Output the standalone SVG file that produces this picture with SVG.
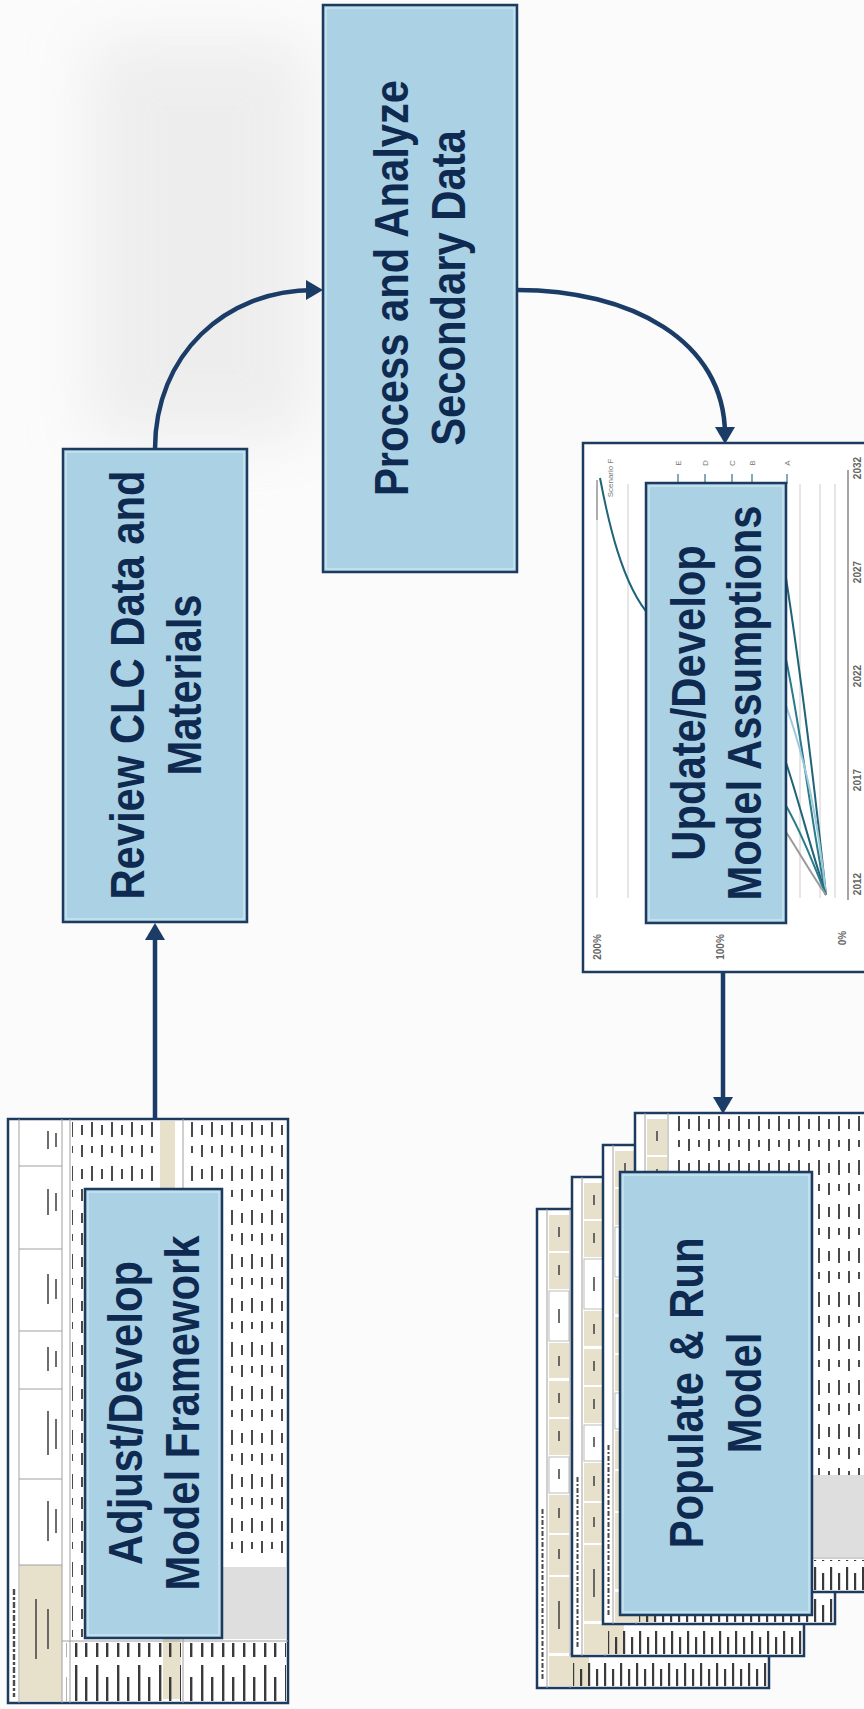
<svg xmlns="http://www.w3.org/2000/svg" width="864" height="1709" viewBox="0 0 864 1709">
<style>
.box{fill:#abd1e4;stroke:#1d3b5e;stroke-width:2.5}
.inner{fill:none;stroke:#dcedf6;stroke-width:1.2;opacity:.8}
.lbl{font-family:"Liberation Sans",Arial,sans-serif;font-weight:700;font-size:48px;fill:#0f2a50;text-anchor:middle}
.conn{fill:none;stroke:#1b3c66;stroke-width:4.5}
.sheet{fill:#fff;stroke:#1d3b5e;stroke-width:2.5}
.frame{fill:#fff;stroke:#1d3b5e;stroke-width:2.5}
.grid{stroke:#d9d9d9;stroke-width:1.3}
.axis{stroke:#a5a5a5;stroke-width:2}
.tick{font-family:"Liberation Sans",Arial,sans-serif;font-weight:700;font-size:10px;fill:#666;text-anchor:middle}
.leg{font-family:"Liberation Sans",Arial,sans-serif;font-size:8px;fill:#777;text-anchor:middle}
.beige{fill:#e7e0ca}
.gl{stroke:#a0a0a0;stroke-width:1}
.mk{stroke:#4a4a4a;stroke-width:1.6}
.cv{fill:none;stroke-width:2}
</style>
<defs>
<marker id="ah" viewBox="0 0 17 20" markerWidth="17" markerHeight="20" refX="8" refY="10" orient="auto" markerUnits="userSpaceOnUse"><path d="M0,0 L17,10 L0,20 z" fill="#1b3c66"/></marker>
<pattern id="pd" width="20" height="44" patternUnits="userSpaceOnUse"><rect x="3" y="3" width="2" height="15" fill="#4a4a4a"/><rect x="3" y="27" width="2" height="7" fill="#4a4a4a"/><rect x="13" y="6" width="2" height="10" fill="#4a4a4a"/><rect x="13" y="26" width="2" height="12" fill="#4a4a4a"/></pattern>
<pattern id="pl" width="21" height="60" patternUnits="userSpaceOnUse"><rect x="4" y="6" width="2.4" height="52" fill="#3a3a3a"/><rect x="14" y="18" width="2.4" height="40" fill="#3a3a3a"/></pattern>
<pattern id="pl2" width="16" height="30" patternUnits="userSpaceOnUse"><rect x="3" y="4" width="2.2" height="24" fill="#3a3a3a"/><rect x="11" y="10" width="2.2" height="18" fill="#3a3a3a"/></pattern>
<filter id="soft" x="-50%" y="-50%" width="200%" height="200%"><feGaussianBlur stdDeviation="30"/></filter>
<g id="sh">
<rect class="sheet" x="0" y="0" width="232" height="479"/>
<line class="gl" x1="10" y1="0" x2="10" y2="479"/>
<line x1="5.5" y1="300" x2="5.5" y2="470" stroke="#4a4a4a" stroke-width="2" stroke-dasharray="5 2 2 2"/>
<rect class="beige" x="12" y="6" width="20" height="36"/>
<rect class="beige" x="12" y="44" width="20" height="36"/>
<rect fill="#fff" stroke="#bbb" x="12" y="82" width="20" height="50"/>
<rect class="beige" x="12" y="134" width="20" height="35"/>
<rect class="beige" x="12" y="172" width="20" height="36"/>
<rect class="beige" x="12" y="210" width="20" height="36"/>
<rect fill="#fff" stroke="#bbb" x="12" y="248" width="20" height="36"/>
<rect class="beige" x="12" y="286" width="20" height="38"/>
<rect class="beige" x="12" y="326" width="20" height="40"/>
<rect class="beige" x="12" y="368" width="20" height="76"/>
<line class="gl" x1="33" y1="0" x2="33" y2="479"/>
<path class="mk" d="M22,18v10M22,56v10M22,100v14M22,147v10M22,184v10M22,222v10M22,260v10M22,299v10M22,340v10M22,392v28"/>
<rect x="36" y="2" width="194" height="360" fill="url(#pd)"/>
<rect x="150" y="362" width="80" height="82" fill="#dedede"/>
<rect x="36" y="362" width="110" height="82" fill="url(#pd)"/>
<line class="gl" x1="33" y1="445" x2="232" y2="445"/>
<rect class="beige" x="12" y="447" width="40" height="30"/>
<rect x="36" y="447" width="194" height="30" fill="url(#pl2)"/>
</g>
</defs>
<rect x="0" y="0" width="864" height="1709" fill="#fbfbfb"/>
<rect x="90" y="40" width="220" height="400" fill="#e8e8e8" filter="url(#soft)" opacity="0.7"/>

<g id="node-process">
<rect class="box" x="323" y="5" width="194" height="567"/>
<rect class="inner" x="326" y="8" width="188" height="561"/>
<text class="lbl" transform="translate(0,288) rotate(-90) scale(0.87,1)"><tspan x="0" y="408">Process and Analyze</tspan><tspan x="0" y="465">Secondary Data</tspan></text>
</g>

<g id="node-review">
<rect class="box" x="63" y="449" width="184" height="473"/>
<rect class="inner" x="66" y="452" width="178" height="467"/>
<text class="lbl" transform="translate(0,685) rotate(-90) scale(0.87,1)"><tspan x="0" y="144">Review CLC Data and</tspan><tspan x="0" y="201">Materials</tspan></text>
</g>

<g id="node-update">
<rect class="frame" x="583" y="443" width="290" height="529"/>
<g id="chart">
<line class="grid" x1="597" y1="484" x2="597" y2="898"/>
<line class="grid" x1="628" y1="484" x2="628" y2="898"/>
<line class="grid" x1="660" y1="484" x2="660" y2="898"/>
<line class="grid" x1="722" y1="484" x2="722" y2="898"/>
<line class="grid" x1="800" y1="484" x2="800" y2="898"/>
<line class="grid" x1="820" y1="484" x2="820" y2="898"/>
<line class="grid" x1="835" y1="484" x2="835" y2="898"/>
<line class="axis" x1="848" y1="470" x2="848" y2="900"/>
<line x1="597" y1="480" x2="597" y2="520" stroke="#9a9a9a" stroke-width="1.5"/>
<path class="cv" stroke="#1f6478" d="M600,478 C608,520 622,585 650,616"/>
<path class="cv" stroke="#1f6478" d="M826,895 C816,800 802,680 784,565"/>
<path class="cv" stroke="#2a7b8c" d="M826,895 C812,830 800,720 784,650"/>
<path class="cv" stroke="#9fc8d8" d="M826,895 C818,820 806,760 784,700"/>
<path class="cv" stroke="#1f6478" d="M826,895 C808,840 796,790 784,757"/>
<path class="cv" stroke="#2a7b8c" d="M826,895 C812,860 800,830 784,802"/>
<path class="cv" stroke="#9a9a9a" d="M826,895 C810,872 798,850 784,829"/>
<path stroke="#5a8fa0" stroke-width="1.5" d="M678,474v10M705,474v10M732,474v10M752,474v10M787,474v10"/>
<text class="leg" transform="translate(0,463) rotate(-90)"><tspan x="0" y="681">E</tspan></text>
<text class="leg" transform="translate(0,463) rotate(-90)"><tspan x="0" y="708">D</tspan></text>
<text class="leg" transform="translate(0,463) rotate(-90)"><tspan x="0" y="735">C</tspan></text>
<text class="leg" transform="translate(0,463) rotate(-90)"><tspan x="0" y="755">B</tspan></text>
<text class="leg" transform="translate(0,463) rotate(-90)"><tspan x="0" y="790">A</tspan></text>
<text class="leg" font-size="7" transform="translate(0,478) rotate(-90)"><tspan x="0" y="613">Scenario F</tspan></text>
<text class="tick" transform="translate(0,947) rotate(-90)"><tspan x="0" y="601">200%</tspan></text>
<text class="tick" transform="translate(0,947) rotate(-90)"><tspan x="0" y="724">100%</tspan></text>
<text class="tick" transform="translate(0,938) rotate(-90)"><tspan x="0" y="846">0%</tspan></text>
<text class="tick" transform="translate(0,884) rotate(-90)"><tspan x="0" y="861">2012</tspan></text>
<text class="tick" transform="translate(0,780) rotate(-90)"><tspan x="0" y="861">2017</tspan></text>
<text class="tick" transform="translate(0,676) rotate(-90)"><tspan x="0" y="861">2022</tspan></text>
<text class="tick" transform="translate(0,572) rotate(-90)"><tspan x="0" y="861">2027</tspan></text>
<text class="tick" transform="translate(0,468) rotate(-90)"><tspan x="0" y="861">2032</tspan></text>
</g>
<rect class="box" x="646" y="483" width="140" height="440"/>
<rect class="inner" x="649" y="486" width="134" height="434"/>
<text class="lbl" transform="translate(0,703) rotate(-90) scale(0.87,1)"><tspan x="0" y="705">Update/Develop</tspan><tspan x="0" y="761">Model Assumptions</tspan></text>
</g>

<g id="node-adjust">
<g transform="translate(8,1119)">
<rect class="sheet" x="0" y="0" width="280" height="584"/>
<line class="gl" x1="11" y1="0" x2="11" y2="584"/>
<line x1="6" y1="470" x2="6" y2="578" stroke="#4a4a4a" stroke-width="2.4" stroke-dasharray="6 2 3 2"/>
<rect class="beige" x="12" y="446" width="42" height="136"/>
<path class="gl" d="M11,47H54M11,130H54M11,212H54M11,270H54M11,360H54M11,446H54"/>
<path class="mk" d="M40,12v18M48,14v14M40,70v26M48,74v18M40,155v30M48,160v20M40,228v24M48,232v16M40,292v44M48,300v30M40,382v40M48,390v24M28,480v60M40,490v40"/>
<line class="gl" x1="54" y1="0" x2="54" y2="584"/>
<line class="gl" x1="62" y1="0" x2="62" y2="584"/>
<rect x="64" y="3" width="88" height="515" fill="url(#pd)"/>
<rect class="beige" x="152" y="2" width="15" height="75"/>
<rect class="beige" x="155" y="490" width="18" height="90"/>
<line class="gl" x1="175" y1="0" x2="175" y2="584"/>
<rect x="178" y="3" width="100" height="440" fill="url(#pd)"/>
<rect x="178" y="448" width="100" height="72" fill="#dedede"/>
<line class="gl" x1="54" y1="522" x2="280" y2="522"/>
<rect x="58" y="524" width="115" height="58" fill="url(#pl)"/>
<rect x="178" y="524" width="100" height="58" fill="url(#pl)"/>
</g>
<rect class="box" x="85" y="1189" width="137" height="449"/>
<rect class="inner" x="88" y="1192" width="131" height="443"/>
<text class="lbl" transform="translate(0,1413) rotate(-90) scale(0.87,1)"><tspan x="0" y="142">Adjust/Develop</tspan><tspan x="0" y="199">Model Framework</tspan></text>
</g>

<g id="node-populate">
<use href="#sh" transform="translate(537,1209)"/>
<use href="#sh" transform="translate(572,1177)"/>
<use href="#sh" transform="translate(603,1145)"/>
<use href="#sh" transform="translate(635,1113)"/>
<rect class="box" x="620" y="1172" width="192" height="443"/>
<rect class="inner" x="623" y="1175" width="186" height="437"/>
<text class="lbl" transform="translate(0,1393) rotate(-90) scale(0.87,1)"><tspan x="0" y="703">Populate &amp; Run</tspan><tspan x="0" y="761">Model</tspan></text>
</g>

<g id="connectors">
<path class="conn" marker-end="url(#ah)" d="M155,1119 L155,932"/>
<path class="conn" marker-end="url(#ah)" d="M155,449 C155,355 225,290 314,290"/>
<path class="conn" marker-end="url(#ah)" d="M517,290 C630,290 725,340 725,435"/>
<path class="conn" marker-end="url(#ah)" d="M723,972 L723,1105"/>
</g>
</svg>
